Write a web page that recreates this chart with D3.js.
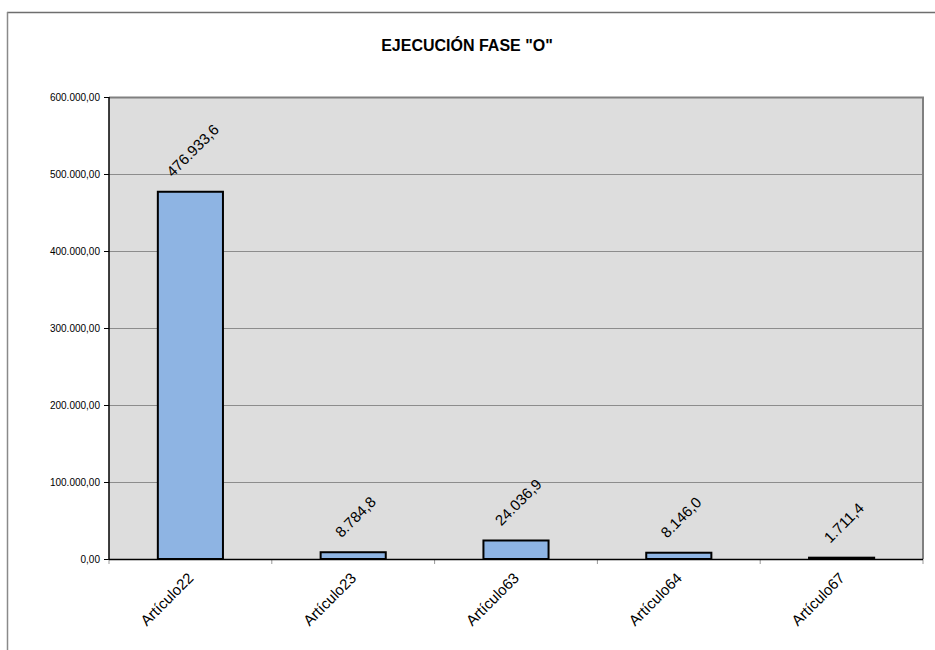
<!DOCTYPE html>
<html>
<head>
<meta charset="utf-8">
<script src="https://cdn.jsdelivr.net/npm/d3@7"></script>
<style>
  html, body { margin: 0; padding: 0; background: #ffffff; }
  svg { display: block; font-family: Arial, "Liberation Sans", sans-serif; }
</style>
</head>
<body>
<svg id="chart" width="935" height="650"></svg>
<script>
const title = 'EJECUCIÓN FASE "O"';
const categories = ["Artículo22", "Artículo23", "Artículo63", "Artículo64", "Artículo67"];
const values = [476933.6, 8784.8, 24036.9, 8146.0, 1711.4];
const yTicks = [0, 100000, 200000, 300000, 400000, 500000, 600000];

const svg = d3.select("#chart");
const W = 935, H = 650;
const plot = { left: 109, right: 923, top: 97, bottom: 559 };

const esNum = d3.formatLocale({ decimal: ",", thousands: ".", grouping: [3], currency: ["", ""] });
const fmtAxis = esNum.format(",.2f");
const fmtVal = esNum.format(",.1f");

// outer frame
svg.append("line").attr("x1", 7).attr("x2", W).attr("y1", 12.5).attr("y2", 12.5)
  .attr("stroke", "#6e6e6e").attr("stroke-width", 1.5);
svg.append("line").attr("x1", 7.5).attr("x2", 7.5).attr("y1", 12).attr("y2", H)
  .attr("stroke", "#8a8a8a").attr("stroke-width", 1.5);

// title
svg.append("text").attr("x", 467).attr("y", 51).attr("text-anchor", "middle")
  .attr("font-size", 16).attr("font-weight", "bold").attr("fill", "#000").text(title);

const x = d3.scaleBand().domain(categories).range([plot.left, plot.right]).paddingInner(0).paddingOuter(0);
const y = d3.scaleLinear().domain([0, 600000]).range([plot.bottom, plot.top]);

// plot background
svg.append("rect").attr("x", plot.left).attr("y", plot.top)
  .attr("width", plot.right - plot.left).attr("height", plot.bottom - plot.top)
  .attr("fill", "#dddddd");

// gridlines
svg.append("g").selectAll("line").data(yTicks.filter(d => d > 0 && d < 600000)).join("line")
  .attr("x1", plot.left).attr("x2", plot.right)
  .attr("y1", d => Math.round(y(d)) + 0.5).attr("y2", d => Math.round(y(d)) + 0.5)
  .attr("stroke", "#8c8c8c").attr("stroke-width", 1);

// plot border top/right
svg.append("path")
  .attr("d", `M${plot.left},${plot.top + 0.5}H${plot.right}V${plot.bottom}`)
  .attr("fill", "none").attr("stroke", "#808080").attr("stroke-width", 2);

// y axis
const yAxis = d3.axisLeft(y).tickValues(yTicks).tickFormat(fmtAxis).tickSize(5).tickPadding(4);
const gy = svg.append("g").attr("transform", `translate(${plot.left},0)`).call(yAxis);
gy.select(".domain").remove();
gy.selectAll(".tick line").attr("stroke", "#000");
gy.selectAll(".tick text").attr("font-size", 10).attr("font-family", "Arial, 'Liberation Sans', sans-serif").attr("fill", "#000");

// x axis ticks at band boundaries
const xAxisG = svg.append("g");
const bounds = categories.map(c => x(c)).concat([plot.right]);
xAxisG.selectAll("line.xt").data(bounds).join("line")
  .attr("x1", d => d).attr("x2", d => d).attr("y1", plot.bottom).attr("y2", plot.bottom + 5)
  .attr("stroke", "#999").attr("stroke-width", 1);

// bars
const barW = x.bandwidth() / 2.5;
svg.append("g").selectAll("rect").data(values).join("rect")
  .attr("x", (d, i) => x(categories[i]) + x.bandwidth() / 2 - barW / 2)
  .attr("y", d => y(d))
  .attr("width", barW)
  .attr("height", d => plot.bottom - y(d))
  .attr("fill", "#8eb4e3").attr("stroke", "#000").attr("stroke-width", 2);

// axis lines (left & bottom)
svg.append("line").attr("x1", plot.left).attr("x2", plot.left).attr("y1", plot.top).attr("y2", plot.bottom + 1)
  .attr("stroke", "#000").attr("stroke-width", 1.5);
svg.append("line").attr("x1", plot.left).attr("x2", plot.right).attr("y1", plot.bottom + 0.5).attr("y2", plot.bottom + 0.5)
  .attr("stroke", "#000").attr("stroke-width", 1.5);

// value labels, rotated -45
const valFont = 15;
const vl = svg.append("g").selectAll("text").data(values).join("text")
  .attr("font-size", valFont).attr("fill", "#000")
  .attr("text-anchor", "middle").attr("dominant-baseline", "central")
  .text(d => fmtVal(d));
vl.each(function (d, i) {
  const L = this.getComputedTextLength();
  const h = valFont * 0.72;
  const half = (L + h) * 0.7071 / 2;
  const cx = x(categories[i]) + x.bandwidth() / 2 + 2;
  const cy = y(d) - 14 - half;
  d3.select(this).attr("transform", `translate(${cx},${cy}) rotate(-45)`);
});

// category labels
svg.append("g").selectAll("text").data(categories).join("text")
  .attr("font-size", 15).attr("fill", "#000").attr("text-anchor", "end")
  .attr("transform", c => `translate(${x(c) + x.bandwidth() / 2 + 4},${plot.bottom + 20}) rotate(-45)`)
  .text(c => c);
</script>
</body>
</html>
